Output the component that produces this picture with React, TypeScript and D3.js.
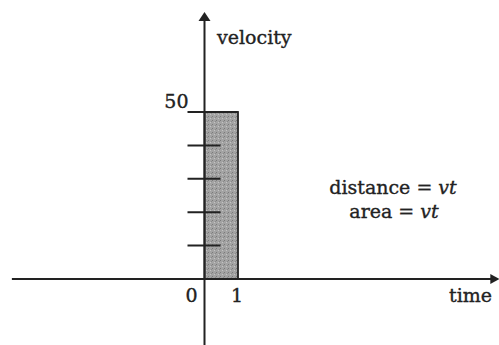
import React from "react";
import * as d3 from "d3";

const xDomain = [-5.75, 8.8];
const yDomain = [0, 50];
const barTime = [0, 1];
const barVelocity = 50;
const yTicks = [10, 20, 30, 40];
const xTickLabels = ["0", "1"];
const formulas = ["distance = ", "area = "];

export default function App() {
  const W = 499, H = 345;
  const x = d3.scaleLinear().domain([0, 1]).range([204.5, 238]);
  const y = d3.scaleLinear().domain(yDomain).range([279, 112]);
  const x0 = x(xDomain[0]);
  const x1 = x(xDomain[1]);
  const ink = "#222";
  const font = "'DejaVu Serif', serif";
  return (
    <svg width={W} height={H} style={{ position: "absolute", left: 0, top: 0, background: "#fff" }}>
      <defs>
        <pattern id="stip" width="4" height="4" patternUnits="userSpaceOnUse">
          <rect width="4" height="4" fill="#a3a3a3" />
          <rect x="0" y="0" width="1" height="1" fill="#7a7a7a" />
          <rect x="2" y="2" width="1" height="1" fill="#c4c4c4" />
          <rect x="3" y="1" width="1" height="1" fill="#8a8a8a" />
        </pattern>
      </defs>
      {/* bar */}
      <rect
        x={x(barTime[0])}
        y={y(barVelocity)}
        width={x(barTime[1]) - x(barTime[0])}
        height={y(0) - y(barVelocity)}
        fill="url(#stip)"
        stroke={ink}
        strokeWidth={1.8}
      />
      {/* horizontal axis */}
      <line x1={x0} x2={x1 - 6} y1={y(0)} y2={y(0)} stroke={ink} strokeWidth={2} />
      <path d={`M${x1},${y(0)} L${x1 - 9},${y(0) - 5} L${x1 - 9},${y(0) + 5} Z`} fill={ink} />
      {/* vertical axis */}
      <line x1={x(0)} x2={x(0)} y1={H} y2={19} stroke={ink} strokeWidth={2} />
      <path d={`M${x(0)},12 L${x(0) - 6},21 L${x(0) + 6},21 Z`} fill={ink} />
      {/* ticks */}
      {yTicks.map((t) => (
        <line key={t} x1={x(0) - 17} x2={x(0) + 16} y1={y(t)} y2={y(t)} stroke={ink} strokeWidth={2} />
      ))}
      <line x1={x(0) - 17} x2={x(1)} y1={y(50)} y2={y(50)} stroke={ink} strokeWidth={2} />
      {/* labels */}
      <g fontFamily={font} fontSize={19} fill={ink} stroke={ink} strokeWidth={0.35}>
        <text x={x(0) - 16} y={y(50) - 4} textAnchor="end">50</text>
        <text x={217} y={44}>velocity</text>
        <text x={x(0) - 13} y={302} textAnchor="middle">{xTickLabels[0]}</text>
        <text x={x(1) - 1} y={302} textAnchor="middle">{xTickLabels[1]}</text>
        <text x={492} y={302} textAnchor="end">time</text>
        <text x={393} y={194} textAnchor="middle">
          {formulas[0]}<tspan fontStyle="italic">vt</tspan>
        </text>
        <text x={394} y={218} textAnchor="middle">
          {formulas[1]}<tspan fontStyle="italic">vt</tspan>
        </text>
      </g>
    </svg>
  );
}
